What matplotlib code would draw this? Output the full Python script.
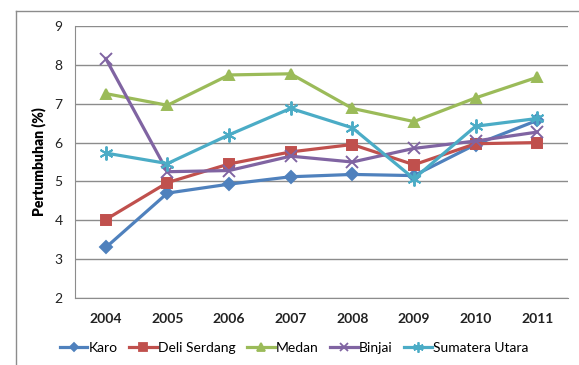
import matplotlib.pyplot as plt
from matplotlib.lines import Line2D

YEARS = ["2004", "2005", "2006", "2007", "2008", "2009", "2010", "2011"]

KARO = [3.3, 4.7, 4.93, 5.12, 5.18, 5.15, 5.95, 6.57]
DELI_SERDANG = [4.02, 4.97, 5.45, 5.76, 5.95, 5.43, 5.97, 6.0]
MEDAN = [7.26, 6.96, 7.74, 7.77, 6.88, 6.54, 7.15, 7.68]
BINJAI = [8.16, 5.25, 5.28, 5.65, 5.5, 5.85, 6.04, 6.27]
SUMATERA_UTARA = [5.73, 5.46, 6.2, 6.88, 6.38, 5.07, 6.42, 6.62]

SERIES = [
    ("Karo", KARO, "#4F81BD", "D", 6),
    ("Deli Serdang", DELI_SERDANG, "#C0504D", "s", 7),
    ("Medan", MEDAN, "#9BBB59", "^", 7.5),
    ("Binjai", BINJAI, "#8064A2", "x", 8),
    ("Sumatera Utara", SUMATERA_UTARA, "#4BACC6", (6, 2, 0), 10),
]

plt.rcParams["font.family"] = ["Lato", "DejaVu Sans"]

fig = plt.figure(figsize=(5.79, 3.65), dpi=100)
ax = fig.add_axes([75 / 579, 1 - 298 / 365, 493 / 579, 272 / 365])

x = list(range(len(YEARS)))
for name, values, color, marker, size in SERIES:
    ax.plot(x, values, color=color, linewidth=2.3, marker=marker,
            markersize=size, markeredgewidth=1.4, label=name)

ax.set_xlim(-0.5, len(YEARS) - 0.5)
ax.set_ylim(2, 9)
ax.set_yticks(range(2, 10))
ax.set_xticks(x)
ax.set_xticklabels(YEARS, fontweight="bold")
ax.tick_params(axis="both", length=0, labelsize=10, colors="#222222")
ax.tick_params(axis="x", pad=11)
ax.tick_params(axis="y", pad=9)
ax.grid(axis="y", color="#8c8c8c", linewidth=1)
ax.set_axisbelow(True)
for side in ("top", "right"):
    ax.spines[side].set_visible(False)
for side in ("left", "bottom"):
    ax.spines[side].set_color("#8c8c8c")
ax.set_ylabel("Pertumbuhan (%)", fontsize=10, fontweight="heavy", labelpad=6)

handles = [Line2D([], [], color=c, linewidth=2.3, marker=m, markersize=s * 0.75,
                  markeredgewidth=1.3) for _, _, c, m, s in SERIES]
fig.legend(handles, [s[0] for s in SERIES], loc="center",
           bbox_to_anchor=(0.508, 1 - 348 / 365), ncol=5, frameon=False,
           fontsize=10, handlelength=2.0, handletextpad=0.1, columnspacing=0.8)

# chart border
fig.add_artist(Line2D([16 / 579, 16 / 579], [0, 1 - 11 / 365],
                      color="#8c8c8c", linewidth=1, transform=fig.transFigure))
fig.add_artist(Line2D([16 / 579, 1], [1 - 11 / 365, 1 - 11 / 365],
                      color="#8c8c8c", linewidth=1, transform=fig.transFigure))

fig.savefig("out.png", dpi=100)
